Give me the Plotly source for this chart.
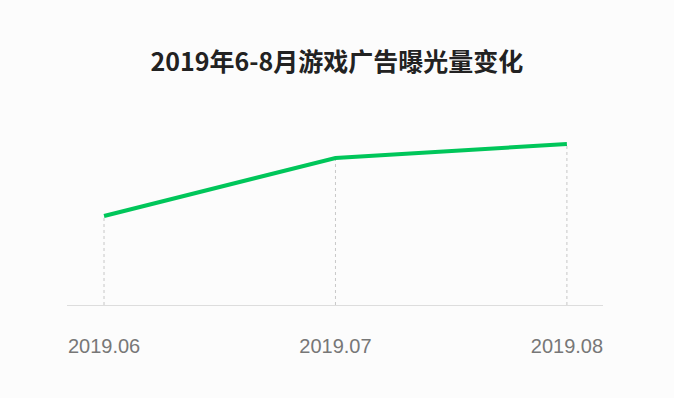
import plotly.graph_objects as go

months = ["2019.06", "2019.07", "2019.08"]
exposure = [89, 147, 161]

xpos = list(range(len(months)))

fig = go.Figure()
fig.add_trace(go.Scatter(
    x=xpos, y=exposure, mode="lines",
    line=dict(color="#00c65a", width=4),
    hoverinfo="skip", showlegend=False,
))

for xv, yv in zip(xpos, exposure):
    fig.add_shape(type="line", xref="x", yref="y", x0=xv, x1=xv, y0=0, y1=yv,
                  line=dict(color="#c8c8c8", width=1, dash="dot"), layer="below")

fig.update_layout(
    width=674, height=398,
    margin=dict(l=67, r=71, t=100, b=93),
    paper_bgcolor="#fcfcfc", plot_bgcolor="#fcfcfc",
    title=dict(text="<b>2019年6-8月游戏广告曝光量变化</b>", x=0.5, xanchor="center",
               y=1 - 62 / 398, yanchor="middle", yref="container",
               font=dict(family="Noto Sans CJK SC", size=25, color="#222222")),
    xaxis=dict(range=[-0.16, 2.156], tickvals=xpos, ticktext=months,
               showgrid=False, zeroline=False, showline=True, linecolor="#dddddd", linewidth=1,
               ticks="outside", ticklen=23, tickcolor="rgba(0,0,0,0)",
               tickfont=dict(family="Liberation Sans, Arial", size=20, color="#777777")),
    yaxis=dict(range=[0, 205], showgrid=False, zeroline=False, showticklabels=False, showline=False),
)

fig.write_html("out.html")
